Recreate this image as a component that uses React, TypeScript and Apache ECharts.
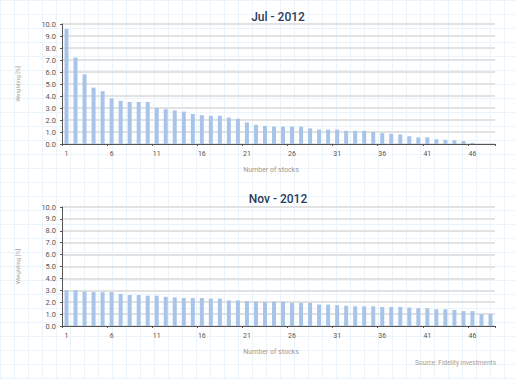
import React, { useEffect, useRef } from "react";
import * as echarts from "echarts";

const categories: string[] = Array.from({ length: 48 }, (_, i) => String(i + 1));
const julValues: number[] = [
  9.6, 7.2, 5.8, 4.7, 4.4, 3.8, 3.6, 3.5, 3.5, 3.5, 3.0, 2.9, 2.8, 2.7, 2.5, 2.4,
  2.35, 2.35, 2.2, 2.1, 1.8, 1.6, 1.5, 1.45, 1.45, 1.45, 1.45, 1.3, 1.2, 1.2, 1.2, 1.1,
  1.1, 1.1, 1.0, 0.9, 0.85, 0.8, 0.65, 0.55, 0.55, 0.4, 0.35, 0.3, 0.25, 0.1, 0, 0,
];
const novValues: number[] = [
  3.0, 3.0, 2.9, 2.85, 2.85, 2.85, 2.7, 2.6, 2.6, 2.55, 2.55, 2.45, 2.4, 2.35, 2.35, 2.35,
  2.3, 2.3, 2.15, 2.15, 2.1, 2.05, 2.0, 2.05, 2.05, 1.95, 1.95, 1.95, 1.8, 1.8, 1.75, 1.7,
  1.65, 1.65, 1.65, 1.6, 1.6, 1.6, 1.55, 1.5, 1.5, 1.4, 1.4, 1.35, 1.25, 1.25, 1.0, 1.0,
];
const titles: string[] = ["Jul - 2012", "Nov - 2012"];
const xName = "Number of stocks";
const yName = "Weighting [%]";
const source = "Source: Fidelity investments";

const FONT = "Roboto, 'DejaVu Sans', sans-serif";

export default function App() {
  const ref = useRef<HTMLDivElement>(null);
  useEffect(() => {
    if (!ref.current) return;
    const chart = echarts.init(ref.current, null, { renderer: "svg" });
    const grids = [
      { left: 62, right: 20, top: 24, height: 120 },
      { left: 62, right: 20, top: 207, height: 119 },
    ];
    const xAxis = grids.map((_, i) => ({
      type: "category" as const,
      gridIndex: i,
      data: categories,
      name: xName,
      nameLocation: "middle" as const,
      nameGap: 22,
      nameTextStyle: { color: "#9a9a9a", fontSize: 7, fontFamily: FONT, padding: [0, 15, 0, 0] },
      axisLine: { lineStyle: { color: "#555", width: 1 } },
      axisTick: { show: true, length: 2, lineStyle: { color: "#555" } },
      axisLabel: {
        interval: 4,
        color: "#555",
        fontSize: 7,
        fontFamily: FONT,
        margin: 6,
      },
    }));
    const yAxis = grids.map((_, i) => ({
      type: "value" as const,
      gridIndex: i,
      min: 0,
      max: 10,
      interval: 1,
      name: yName,
      nameLocation: "middle" as const,
      nameGap: 42,
      nameTextStyle: { color: "#a8a8a8", fontSize: 6, fontFamily: FONT },
      axisLine: { show: true, lineStyle: { color: "#555", width: 1 } },
      axisTick: { show: true, length: 2, lineStyle: { color: "#555" } },
      axisLabel: {
        color: "#555",
        fontSize: 7.5,
        fontFamily: FONT,
        margin: 6,
        formatter: (v: number) => v.toFixed(1),
      },
      splitLine: { show: true, lineStyle: { color: "#e2e2e2", width: 2 } },
    }));
    const titleStyle = { color: "#2b3c5a", fontSize: 12, fontWeight: 500, fontFamily: FONT };
    const option = {
      animation: false,
      title: [
        { text: titles[0], left: 273, top: 6, textAlign: "center", textStyle: titleStyle },
        { text: titles[1], left: 273, top: 188, textAlign: "center", textStyle: titleStyle },
      ],
      grid: grids,
      xAxis,
      yAxis,
      series: [
        {
          type: "bar",
          xAxisIndex: 0,
          yAxisIndex: 0,
          data: julValues,
          barWidth: 4,
          itemStyle: { color: "#a8c4e8" },
        },
        {
          type: "bar",
          xAxisIndex: 1,
          yAxisIndex: 1,
          data: novValues,
          barWidth: 4,
          itemStyle: { color: "#a8c4e8" },
        },
      ],
      graphic: [
        {
          type: "text",
          right: 19,
          top: 359,
          style: { text: source, fill: "#a0a0a0", fontSize: 6.5, fontFamily: FONT },
        },
      ],
    };
    chart.setOption(option as any);
    return () => chart.dispose();
  }, []);
  const bg =
    "linear-gradient(#ebf4fb 1px, transparent 1px), linear-gradient(90deg, #ebf4fb 1px, transparent 1px)";
  return (
    <div
      ref={ref}
      style={{
        position: "fixed",
        left: 0,
        top: 0,
        width: 515,
        height: 379,
        backgroundColor: "#fff",
        backgroundImage: bg,
        backgroundSize: "14px 14px",
      }}
    />
  );
}
